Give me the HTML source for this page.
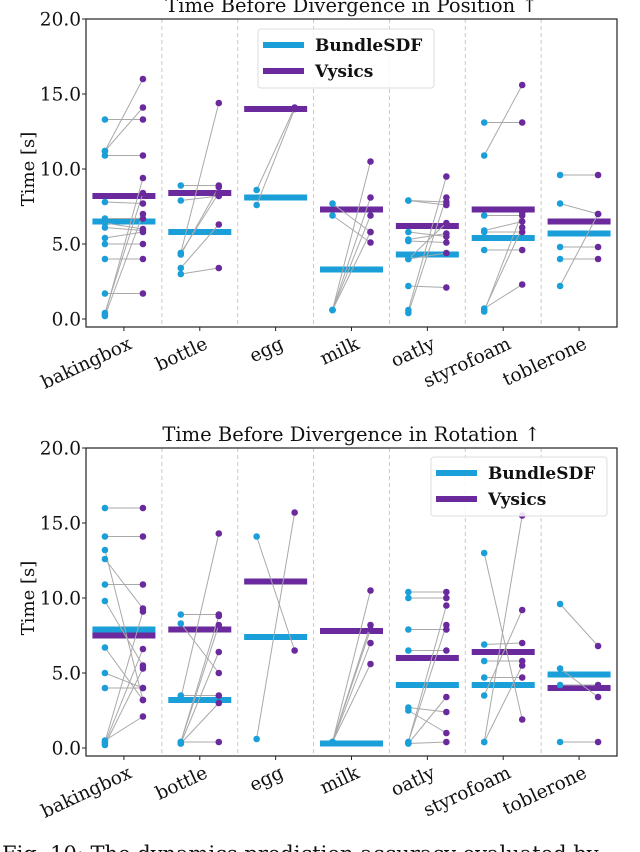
<!DOCTYPE html>
<html><head><meta charset="utf-8">
<style>
html,body{margin:0;padding:0;background:#fff;}
svg{display:block;font-family:"DejaVu Serif","Liberation Serif",serif;}
</style></head>
<body>
<svg id="fig" width="640" height="852" viewBox="0 0 640 852" xmlns="http://www.w3.org/2000/svg"></svg>
<script>
const categories = ["bakingbox","bottle","egg","milk","oatly","styrofoam","toblerone"];
const yTicks = [0,5,10,15,20];
const yTickLabels = ["0.0","5.0","10.0","15.0","20.0"];
// Position chart: paired values (BundleSDF -> Vysics)
const posBundle = [
 [13.3,11.2,11.2,10.9,0.3,0.4,7.8,6.7,6.4,6.1,5.4,5.0,4.0,1.7,0.2],
 [8.9,7.9,4.4,4.3,3.4,3.0,4.4],
 [8.6,7.6],
 [7.7,6.9,0.6,0.6,0.6,0.6],
 [7.9,7.9,5.8,5.2,5.3,4.0,2.2,0.6,0.4,4.0],
 [13.1,10.9,6.9,5.9,5.8,4.6,0.7,0.6,0.5],
 [9.6,7.7,4.8,4.0,2.2]
];
const posVysics = [
 [13.3,14.1,16.0,10.9,9.4,8.4,7.7,6.7,6.0,5.9,5.8,5.0,4.0,1.7,7.0],
 [8.9,8.2,8.4,8.8,6.3,3.4,14.4],
 [14.1,14.0],
 [5.8,5.1,10.5,8.1,6.9,5.8],
 [7.8,7.6,5.5,5.1,5.7,6.4,2.1,9.5,8.1,4.4],
 [13.1,15.6,6.9,6.5,5.8,4.6,2.3,6.1,7.1],
 [9.6,7.0,4.8,4.0,7.0]
];
const posBundleMean = [6.5,5.8,8.1,3.3,4.3,5.4,5.7];
const posVysicsMean = [8.2,8.4,14.0,7.3,6.2,7.3,6.5];
// Rotation chart
const rotBundle = [
 [16.0,14.1,13.2,12.6,10.9,9.8,6.7,5.0,4.0,0.4,0.3,0.2,0.5],
 [8.9,8.3,3.5,3.3,0.4,0.4,0.3,0.3,0.4],
 [14.1,0.6],
 [0.4,0.4,0.4,0.4,0.4],
 [10.4,10.0,7.9,6.5,2.7,2.5,0.4,0.4,0.3,0.3],
 [13.0,6.9,5.8,4.7,3.5,0.4,0.4],
 [9.6,5.3,4.2,0.4]
];
const rotVysics = [
 [16.0,14.1,3.2,9.3,10.9,5.5,3.2,4.0,4.0,9.1,6.6,5.3,2.1],
 [8.9,5.0,3.5,14.3,8.8,8.2,6.4,3.0,0.4],
 [6.5,15.7],
 [10.5,8.2,7.9,7.0,5.6],
 [10.4,10.0,7.9,6.5,2.4,1.0,9.5,8.2,3.4,0.4],
 [1.9,7.0,5.8,4.7,9.2,15.5,5.5],
 [6.8,3.4,4.2,0.4]
];
const rotBundleMean = [7.9,3.2,7.4,0.3,4.2,4.2,4.9];
const rotVysicsMean = [7.5,7.9,11.1,7.8,6.0,6.4,4.0];

const NS="http://www.w3.org/2000/svg";
const svg=document.getElementById('fig');
const BLUE="#1a9fd8", PURPLE="#6a2a9e";
function mk(tag,attrs,parent){const e=document.createElementNS(NS,tag);for(const k in attrs)e.setAttribute(k,attrs[k]);(parent||svg).appendChild(e);return e;}

const X0=86,X1=617,W=(X1-X0)/categories.length;
function xC(i){return X0+W*(i+0.5);}

function drawChart(top,title,bundle,vysics,bMean,vMean,legend,prefix){
  const y0=top+300;
  const yS=v=>y0-v*15;
  const axBottom=y0+8;
  const g=mk('g',{});
  
  
  for(let i=1;i<categories.length;i++){
    const l=mk('line',{x1:X0+W*i,x2:X0+W*i,y1:top,y2:axBottom,stroke:"#c8c8c8","stroke-width":1,"stroke-dasharray":"4,3"},g);
    
    
  }
  categories.forEach((c,i)=>{
    const b=mk('rect',{x:xC(i)-31.5,y:yS(bMean[i])-3,width:63,height:6,fill:BLUE},g);
    
    
    const p=mk('rect',{x:xC(i)-31.5,y:yS(vMean[i])-3,width:63,height:6,fill:PURPLE},g);
    
    
  });
  categories.forEach((c,i)=>{
    const xb=xC(i)-19, xv=xC(i)+19;
    bundle[i].forEach((v,j)=>{
      const l=mk('line',{x1:xb,y1:yS(v),x2:xv,y2:yS(vysics[i][j]),stroke:"#a9a9a9","stroke-width":1},g);
      
      
    });
    bundle[i].forEach(v=>{
      const d=mk('circle',{cx:xb,cy:yS(v),r:3.3,fill:BLUE},g);
      
      
    });
    vysics[i].forEach(v=>{
      const d=mk('circle',{cx:xv,cy:yS(v),r:3.3,fill:PURPLE},g);
      
      
    });
  });
  const fr=mk('rect',{x:X0,y:top,width:X1-X0,height:axBottom-top,fill:"none",stroke:"#222","stroke-width":1.2},g);
  
  
  yTicks.forEach((t,k)=>{
    mk('line',{x1:X0-4,x2:X0,y1:yS(t),y2:yS(t),stroke:"#222"},g);
    const tx=mk('text',{x:X0-5,y:yS(t)+6.5,"text-anchor":"end","font-size":18.5,fill:"#111"},g);
    tx.textContent=yTickLabels[k];
    
    
  });
  const yl=mk('text',{x:0,y:0,"text-anchor":"middle","font-size":18,fill:"#111",transform:`translate(34,${top+150}) rotate(-90)`},g);
  yl.textContent="Time [s]";
  
  
  categories.forEach((c,i)=>{
    mk('line',{x1:xC(i),x2:xC(i),y1:axBottom,y2:axBottom+4,stroke:"#222"},g);
    const tx=mk('text',{x:0,y:0,"text-anchor":"end","font-size":18.5,fill:"#111",transform:`translate(${xC(i)+9},${axBottom+21}) rotate(-25)`},g);
    tx.textContent=c;
    
    
  });
  const tt=mk('text',{x:(X0+X1)/2,y:top-7,"text-anchor":"middle","font-size":19.5,fill:"#111"},g);
  tt.textContent=title;
  
  
  const lg=mk('g',{},g);
  
  
  mk('rect',{x:legend.x,y:legend.y,width:176,height:59,rx:3,fill:"#fff","fill-opacity":0.85,stroke:"#ddd"},lg);
  mk('rect',{x:legend.x+5,y:legend.y+13,width:41,height:6,fill:BLUE},lg);
  mk('rect',{x:legend.x+5,y:legend.y+39,width:41,height:6,fill:PURPLE},lg);
  const t1=mk('text',{x:legend.x+57,y:legend.y+22,"font-size":17,"font-weight":"bold",fill:"#111"},lg);
  t1.textContent="BundleSDF";
  
  
  const t2=mk('text',{x:legend.x+57,y:legend.y+48,"font-size":17,"font-weight":"bold",fill:"#111"},lg);
  t2.textContent="Vysics";
  
  
}
drawChart(19,"Time Before Divergence in Position \u2191",posBundle,posVysics,posBundleMean,posVysicsMean,{x:258,y:29},'position');
drawChart(448,"Time Before Divergence in Rotation \u2191",rotBundle,rotVysics,rotBundleMean,rotVysicsMean,{x:431,y:457},'rotation');
const cap=mk('text',{x:2,y:861,"font-size":21,fill:"#111"});
cap.textContent="Fig. 10: The dynamics prediction accuracy evaluated by";


</script>
</body></html>
